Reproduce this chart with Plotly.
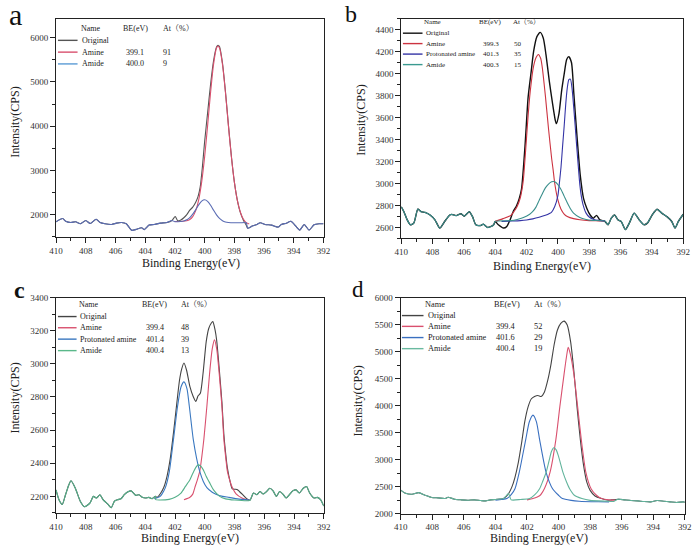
import plotly.graph_objects as go

W, H = 700, 552
FONT = "Liberation Serif, 'Noto Serif CJK SC', 'Noto Sans CJK SC', serif"

# ---------------- Panel a ----------------
A_orig_E = [410.0, 409.55, 409.35, 409.0, 408.68, 408.35, 408.0, 407.7, 407.3, 407.03, 406.7, 406.26, 405.93, 405.6,
            405.27, 404.9, 404.6, 404.24, 404.07, 403.74, 403.4, 402.97, 402.53, 402.2, 401.98, 401.8, 401.6, 401.4,
            401.2, 401.0, 400.8, 400.6, 400.45, 400.3, 400.15, 400.0, 399.8, 399.6, 399.4, 399.2, 399.1, 399.0, 398.8,
            398.6, 398.4, 398.2, 398.0, 397.8, 397.6, 397.4, 397.2, 397.1, 396.8, 396.48, 396.26, 395.93, 395.5,
            395.05, 394.84, 394.5, 394.2, 393.85, 393.6, 393.3, 392.97, 392.64, 392.3, 392.0]
A_orig_I = [1837, 1911, 1852, 1822, 1837, 1793, 1867, 1800, 1896, 1822, 1793, 1778, 1807, 1822,
            1793, 1644, 1666, 1704, 1659, 1763, 1778, 1807, 1822, 1867, 1956, 1860, 1880, 1930,
            2000, 2100, 2170, 2280, 2400, 2620, 3080, 3650, 4300, 4950, 5480, 5790, 5830, 5800, 5430,
            4790, 4030, 3320, 2740, 2330, 2050, 1880, 1760, 1690, 1741, 1778, 1815, 1778, 1763,
            1718, 1778, 1807, 1850, 1733, 1650, 1778, 1650, 1770, 1793, 1793]
A_amine_E = [402.0, 401.6, 401.2, 401.0, 400.8, 400.6, 400.4, 400.2, 400.0, 399.8, 399.6, 399.4, 399.2, 399.1,
             399.0, 398.8, 398.6, 398.4, 398.2, 398.0, 397.8, 397.6, 397.4, 397.2, 397.0]
A_amine_I = [1845, 1846, 1860, 1890, 1955, 2090, 2335, 2735, 3305, 4013, 4762, 5398, 5767, 5815,
             5767, 5398, 4762, 4013, 3305, 2735, 2320, 2060, 1900, 1820, 1790]
A_amide_E = [402.0, 401.6, 401.4, 401.2, 401.0, 400.8, 400.6, 400.4, 400.2, 400.0, 399.8, 399.6, 399.4, 399.2,
             399.0, 398.8, 398.6, 398.4, 398.0, 397.6, 397.2]
A_amide_I = [1840, 1846, 1856, 1882, 1932, 2010, 2112, 2220, 2304, 2335, 2300, 2212, 2100, 1995,
             1915, 1863, 1835, 1823, 1815, 1815, 1815]
A_names = ["Original", "Amine", "Amide"]
A_be = ["", "399.1", "400.0"]
A_at = ["", "91", "9"]

# ---------------- Panel b ----------------
B_orig_E = [410.0, 409.83, 409.62, 409.42, 409.2, 408.94, 408.73, 408.48, 408.16, 407.85,
            407.54, 407.23, 406.9, 406.77, 406.5, 406.18, 405.98, 405.66, 405.45, 405.24,
            404.93, 404.76, 404.5, 404.26, 404.1, 404.0, 403.8, 403.47, 403.26, 403.05,
            402.84, 402.64, 402.47, 402.32, 402.1, 401.9, 401.7, 401.55, 401.34, 401.13,
            400.93, 400.76, 400.55, 400.34, 400.17, 400.1, 399.93, 399.76, 399.6, 399.44,
            399.3, 399.13, 398.98, 398.78, 398.57, 398.36, 398.15, 397.94, 397.74, 397.53,
            397.32, 397.0, 396.8, 396.59, 396.38, 396.17, 395.96, 395.69, 395.44, 395.13,
            394.81, 394.5, 394.29, 393.98, 393.67, 393.35, 393.04, 392.73, 392.52, 392.31,
            392.0]
B_orig_I = [2788, 2743, 2669, 2624, 2639, 2767, 2743, 2737, 2713, 2669,
            2594, 2654, 2713, 2719, 2707, 2725, 2702, 2743, 2698, 2624,
            2618, 2630, 2600, 2609, 2624, 2654, 2624, 2594, 2609, 2670,
            2750, 2797, 2862, 2952, 3339, 3786, 4025, 4203, 4337, 4376,
            4323, 4173, 3935, 3727, 3578, 3545, 3637, 3846, 3995, 4129,
            4155, 4099, 3816, 3429, 3071, 2862, 2773, 2713, 2684, 2710,
            2669, 2655, 2624, 2684, 2713, 2669, 2654, 2580, 2639, 2730,
            2669, 2624, 2639, 2713, 2765, 2728, 2698, 2654, 2594, 2654,
            2720]
B_amine_E = [404.0, 403.5, 403.0, 402.8, 402.6, 402.4, 402.3, 402.2, 402.1, 402.0, 401.9, 401.8, 401.7, 401.6,
             401.5, 401.4, 401.25, 401.1, 401.0, 400.8, 400.6, 400.4, 400.3, 400.2, 400.0, 399.8, 399.6, 399.4,
             399.0, 398.6, 398.0, 397.4, 397.0]
B_amine_I = [2655, 2680, 2710, 2745, 2790, 2870, 2940, 3040, 3220, 3420, 3620, 3790, 3920, 4030,
             4100, 4145, 4175, 4140, 4060, 3800, 3500, 3230, 3120, 3000, 2850, 2765, 2722, 2700,
             2680, 2670, 2662, 2660, 2658]
B_prot_E = [403.6, 403.0, 402.4, 402.0, 401.6, 401.2, 400.8, 400.4, 400.2, 400.0, 399.9, 399.8, 399.7, 399.6,
            399.5, 399.4, 399.3, 399.2, 399.1, 399.0, 398.9, 398.8, 398.7, 398.6, 398.5, 398.4, 398.2, 398.0,
            397.7, 397.4, 397.0]
B_prot_I = [2655, 2658, 2662, 2668, 2678, 2692, 2710, 2740, 2790, 2890, 3010, 3150, 3340, 3520,
            3720, 3870, 3945, 3950, 3870, 3710, 3530, 3340, 3160, 2990, 2880, 2810, 2730, 2695,
            2672, 2664, 2660]
B_amide_E = [404.0, 403.0, 402.6, 402.2, 401.8, 401.6, 401.4, 401.2, 401.0, 400.8, 400.6, 400.4, 400.3, 400.2,
             400.0, 399.8, 399.6, 399.4, 399.2, 399.0, 398.6, 398.2, 397.8, 397.0]
B_amide_I = [2655, 2662, 2672, 2690, 2720, 2745, 2785, 2845, 2905, 2960, 2995, 3015, 3018, 3015,
             2990, 2945, 2885, 2825, 2770, 2730, 2690, 2672, 2664, 2658]
B_names = ["Original", "Amine", "Protonated amine", "Amide"]
B_be = ["", "399.3", "401.3", "400.3"]
B_at = ["", "50", "35", "15"]

# ---------------- Panel c ----------------
C_orig_E = [410.0, 409.8, 409.58, 409.36, 409.14, 408.99, 408.7, 408.37, 408.08, 407.71,
            407.49, 407.27, 407.05, 406.84, 406.5, 406.29, 406.07, 405.85, 405.63, 405.41,
            405.19, 404.95, 404.64, 404.42, 404.2, 403.98, 403.76, 403.54, 403.32, 403.2,
            402.98, 402.76, 402.54, 402.32, 402.1, 401.88, 401.7, 401.55, 401.4, 401.22,
            401.0, 400.78, 400.6, 400.45, 400.3, 400.12, 399.9, 399.73, 399.57, 399.46,
            399.31, 399.2, 399.03, 398.85, 398.72, 398.6, 398.48, 398.3, 398.15, 397.93,
            397.8, 397.66, 397.45, 397.16, 396.95, 396.73, 396.5, 396.29, 396.07, 395.85,
            395.63, 395.41, 395.19, 394.97, 394.75, 394.53, 394.31, 394.09, 393.87, 393.65,
            393.38, 393.16, 392.95, 392.66, 392.44, 392.22, 392.0]
C_orig_I = [2239, 2180, 2151, 2210, 2269, 2294, 2249, 2171, 2137, 2161,
            2200, 2190, 2210, 2180, 2151, 2131, 2171, 2180, 2186, 2210,
            2226, 2233, 2206, 2210, 2194, 2190, 2194, 2186, 2200, 2194,
            2217, 2253, 2321, 2429, 2587, 2763, 2901, 2970, 3005, 2960,
            2862, 2803, 2773, 2807, 2822, 2940, 3137, 3215, 3245, 3255,
            3205, 3140, 2970, 2770, 2575, 2460, 2370, 2290, 2245, 2243,
            2240, 2228, 2210, 2184, 2178, 2220, 2210, 2229, 2214, 2229,
            2249, 2233, 2200, 2229, 2214, 2190, 2210, 2233, 2239, 2220,
            2249, 2259, 2220, 2190, 2194, 2180, 2141]
C_amine_E = [401.4, 401.0, 400.8, 400.67, 400.5, 400.34, 400.2, 400.06, 399.86, 399.68, 399.5, 399.35,
             399.2, 399.03, 398.85, 398.72, 398.6, 398.48, 398.3, 398.15, 397.9, 397.5, 397.0]
C_amine_I = [2180, 2195, 2215, 2253, 2300, 2351, 2440, 2547, 2744, 2940, 3090, 3145,
             3090, 2940, 2744, 2547, 2440, 2351, 2290, 2253, 2215, 2190, 2175]
C_prot_E = [403.4, 403.0, 402.87, 402.65, 402.38, 402.1, 401.83, 401.6, 401.4, 401.2, 401.04, 400.78,
            400.55, 400.34, 400.1, 399.86, 399.5, 399.25, 398.8, 398.37, 397.8, 397.0]
C_prot_I = [2185, 2200, 2215, 2253, 2351, 2547, 2744, 2860, 2891, 2850, 2744, 2547,
            2430, 2351, 2290, 2253, 2225, 2213, 2200, 2194, 2185, 2178]
C_amide_E = [403.3, 403.0, 402.4, 402.0, 401.6, 401.3, 401.0, 400.8, 400.6, 400.45, 400.3, 400.1,
             399.9, 399.68, 399.4, 399.0, 398.6, 398.0, 397.0]
C_amide_I = [2180, 2178, 2182, 2195, 2220, 2260, 2300, 2340, 2375, 2390, 2385, 2360,
             2320, 2283, 2238, 2200, 2185, 2178, 2175]
C_names = ["Original", "Amine", "Protonated amine", "Amide"]
C_be = ["", "399.4", "401.4", "400.4"]
C_at = ["", "48", "39", "13"]

# ---------------- Panel d ----------------
D_orig_E = [410.0, 409.69, 409.28, 408.86, 408.45, 408.03, 407.62, 407.2, 407.0, 406.59,
            406.17, 405.76, 405.34, 404.93, 404.62, 404.31, 404.0, 403.7, 403.48, 403.17,
            402.96, 402.76, 402.55, 402.34, 402.14, 401.93, 401.72, 401.52, 401.31, 401.1,
            400.9, 400.69, 400.48, 400.28, 400.07, 399.86, 399.65, 399.45, 399.24, 399.03,
            398.83, 398.62, 398.41, 398.21, 398.0, 397.69, 397.28, 396.86, 396.65, 396.24,
            395.83, 395.41, 395.0, 394.59, 394.17, 393.76, 393.34, 392.93, 392.52, 392.1,
            392.0]
D_orig_I = [2436, 2376, 2358, 2388, 2340, 2297, 2291, 2279, 2303, 2267,
            2255, 2248, 2255, 2242, 2236, 2255, 2260, 2270, 2279, 2370,
            2491, 2673, 2945, 3309, 3703, 3976, 4127, 4170, 4188, 4170,
            4248, 4461, 4764, 5127, 5400, 5521, 5564, 5491, 5188, 4642,
            3976, 3370, 2885, 2582, 2430, 2327, 2279, 2248, 2255, 2267,
            2255, 2242, 2236, 2224, 2218, 2242, 2230, 2218, 2206, 2218,
            2212]
D_amine_E = [402.0, 401.62, 401.2, 400.9, 400.54, 400.17, 399.92, 399.65, 399.5, 399.39,
             399.25, 399.03, 398.79, 398.56, 398.27, 397.94, 397.6, 397.28, 396.8, 396.4]
D_amine_I = [2255, 2279, 2330, 2461, 2764, 3370, 3976, 4582, 4900, 5079,
             4950, 4582, 3976, 3370, 2764, 2461, 2340, 2279, 2255, 2250]
D_prot_E = [404.0, 403.6, 403.27, 403.0, 402.76, 402.49, 402.08, 401.85, 401.62, 401.4,
            401.2, 400.79, 400.38, 400.0, 399.76, 399.2, 398.7, 397.5, 396.8]
D_prot_I = [2250, 2262, 2279, 2350, 2461, 2764, 3370, 3700, 3824, 3700,
            3370, 2764, 2461, 2340, 2279, 2245, 2230, 2220, 2218]
D_amide_E = [403.0, 402.4, 401.83, 401.5, 401.2, 401.0, 400.79, 400.6, 400.45, 400.3,
             400.15, 400.0, 399.72, 399.5, 399.3, 399.0, 398.52, 398.0, 397.0, 396.5]
D_amide_I = [2255, 2262, 2279, 2350, 2461, 2600, 2764, 2980, 3150, 3220,
             3180, 3060, 2764, 2590, 2461, 2340, 2279, 2245, 2230, 2225]
D_names = ["Original", "Amine", "Protonated amine", "Amide"]
D_be = ["", "399.4", "401.6", "400.4"]
D_at = ["", "52", "29", "19"]

X_TICKS = [410, 408, 406, 404, 402, 400, 398, 396, 394, 392]


def full_component(orig_E, orig_I, comp_E, comp_I):
    """Component curve, continued by the raw spectrum outside the fitting window."""
    lo, hi = min(comp_E), max(comp_E)
    left = [(e, i) for e, i in zip(orig_E, orig_I) if e > hi]
    right = [(e, i) for e, i in zip(orig_E, orig_I) if e < lo]
    pts = left + list(zip(comp_E, comp_I)) + right
    return [p[0] for p in pts], [p[1] for p in pts]


panels = [
    dict(letter="a", letter_size=30, letter_bold=False, letter_pos=(8.5, 27),
         box=(50, 323, 14, 236), yrange=[1500, 6430], dtick=1000, minor=500,
         series=[(A_orig_E, A_orig_I, "#555555", 1.1),
                 (A_amine_E, A_amine_I, "#d9506e", 1.1)],
         last=(A_amide_E, A_amide_I, "#5a6cb4", 1.1),
         names=A_names, be=A_be, at=A_at,
         colors=["#555555", "#d9506e", "#5b9bd5"],
         leg=dict(hy=24, rows=[36, 48, 60], name_cx=86, be_cx=131.5, at_x=157, s0=52, s1=72,
                  lab_x=74, bev_x=119, atv_x=157.5, fs=8),
         ytitle=(8, 119), xtitle=(187.5, 263)),
    dict(letter="b", letter_size=24, letter_bold=False, letter_pos=(351.5, 23),
         box=(402.3, 690, 14, 237.7), yrange=[2500, 4500], dtick=200, minor=100,
         series=[(B_orig_E, B_orig_I, "#111111", 1.4),
                 (B_amine_E, B_amine_I, "#cc3340", 1.1),
                 (B_prot_E, B_prot_I, "#3434a6", 1.1)],
         last=(B_amide_E, B_amide_I, "#3a8f8c", 1.1),
         names=B_names, be=B_be, at=B_at,
         colors=["#111111", "#cc3340", "#3434a6", "#3a9a90"],
         leg=dict(hy=17.3, rows=[28.7, 39.3, 50, 60.7], name_cx=434, be_cx=493, at_x=514, s0=404, s1=424,
                  lab_x=426, bev_x=483.5, atv_x=515, fs=7),
         ytitle=(361, 117), xtitle=(546, 266)),
    dict(letter="c", letter_size=24, letter_bold=True, letter_pos=(12.5, 305),
         box=(50, 323.3, 298, 517.3), yrange=[2100, 3400], dtick=200, minor=100,
         series=[(C_orig_E, C_orig_I, "#444444", 1.1),
                 (C_amine_E, C_amine_I, "#d9506e", 1.1),
                 (C_prot_E, C_prot_I, "#3a78c0", 1.1)],
         last=(C_amide_E, C_amide_I, "#55b08a", 1.1),
         names=C_names, be=C_be, at=C_at,
         colors=["#444444", "#d9506e", "#3a78c0", "#5ab88a"],
         leg=dict(hy=305.3, rows=[317.3, 328.7, 340.3, 352], name_cx=83.5, be_cx=150.5, at_x=176, s0=52, s1=71,
                  lab_x=72.7, bev_x=140, atv_x=176, fs=8),
         ytitle=(8, 400), xtitle=(187, 543)),
    dict(letter="d", letter_size=23, letter_bold=False, letter_pos=(358.5, 304),
         box=(401.7, 691.7, 298, 518), yrange=[2000, 6000], dtick=500, minor=250,
         series=[(D_orig_E, D_orig_I, "#444444", 1.1),
                 (D_amine_E, D_amine_I, "#d9506e", 1.1),
                 (D_prot_E, D_prot_I, "#3a70c0", 1.1)],
         last=(D_amide_E, D_amide_I, "#62b49c", 1.1),
         names=D_names, be=D_be, at=D_at,
         colors=["#444444", "#d9506e", "#3a70c0", "#6abaa0"],
         leg=dict(hy=305.3, rows=[316.3, 327.3, 338.7, 350], name_cx=437, be_cx=510, at_x=535.7, s0=403, s1=425,
                  lab_x=427.3, bev_x=496.7, atv_x=535.7, fs=8.3),
         ytitle=(358, 403), xtitle=(543, 543)),
]

fig = go.Figure()
annotations = []
shapes = []


def P(px, py):
    return px / W, 1 - py / H


orig_lists = [(A_orig_E, A_orig_I), (B_orig_E, B_orig_I), (C_orig_E, C_orig_I), (D_orig_E, D_orig_I)]

for k, p in enumerate(panels):
    n = "" if k == 0 else str(k + 1)
    xa, ya = "x" + n, "y" + n
    x0, x1, y0, y1 = p["box"]
    for (E, I, col, w) in p["series"]:
        fig.add_trace(go.Scatter(x=E, y=I, mode="lines", xaxis=xa, yaxis=ya, showlegend=False,
                                 line=dict(color=col, width=w, shape="spline", smoothing=0.6),
                                 hoverinfo="skip"))
    cE, cI, col, w = p["last"]
    fe, fi = full_component(orig_lists[k][0], orig_lists[k][1], cE, cI)
    fig.add_trace(go.Scatter(x=fe, y=fi, mode="lines", xaxis=xa, yaxis=ya, showlegend=False,
                             line=dict(color=col, width=w, shape="spline", smoothing=0.6),
                             hoverinfo="skip"))

    axis_common = dict(showline=True, linecolor="#222222", linewidth=1, mirror=True,
                       ticks="outside", tickcolor="#222222", ticklen=5, tickwidth=1,
                       showgrid=False, zeroline=False,
                       tickfont=dict(family=FONT, size=9, color="#333333"))
    fig.layout["xaxis" + n] = dict(domain=[x0 / W, x1 / W], range=[410, 392], anchor=ya,
                                   tickmode="array", tickvals=X_TICKS,
                                   minor=dict(dtick=1, tick0=392, ticks="outside", ticklen=3,
                                              tickcolor="#222222", showgrid=False),
                                   **axis_common)
    fig.layout["yaxis" + n] = dict(domain=[1 - y1 / H, 1 - y0 / H], range=p["yrange"], anchor=xa,
                                   tick0=0, dtick=p["dtick"],
                                   minor=dict(dtick=p["minor"], tick0=0, ticks="outside", ticklen=3,
                                              tickcolor="#222222", showgrid=False),
                                   **axis_common)

    # panel letter
    lx, ly = P(*p["letter_pos"])
    txt = "<b>%s</b>" % p["letter"] if p["letter_bold"] else p["letter"]
    annotations.append(dict(x=lx, y=ly, xref="paper", yref="paper", text=txt, showarrow=False,
                            xanchor="center", yanchor="bottom", borderpad=0,
                            font=dict(family=FONT, size=p["letter_size"], color="#111111")))
    # axis titles
    tx, ty = P(*p["ytitle"])
    annotations.append(dict(x=tx, y=ty, xref="paper", yref="paper", text="Intensity(CPS)", showarrow=False,
                            textangle=-90, xanchor="center", yanchor="middle",
                            font=dict(family=FONT, size=12, color="#222222")))
    tx, ty = P(*p["xtitle"])
    annotations.append(dict(x=tx, y=ty, xref="paper", yref="paper", text="Binding Energy(eV)", showarrow=False,
                            xanchor="center", yanchor="middle",
                            font=dict(family=FONT, size=12, color="#222222")))

    # legend table
    L = p["leg"]
    f = dict(family=FONT, size=L["fs"], color="#222222")
    for text, cx, anchor in (("Name", L["name_cx"], "center"), ("BE(eV)", L["be_cx"], "center"),
                             ("At（%）", L["at_x"], "left")):
        ax_, ay_ = P(cx, L["hy"])
        annotations.append(dict(x=ax_, y=ay_, xref="paper", yref="paper", text=text, showarrow=False,
                                xanchor=anchor, yanchor="middle", font=f))
    for r, ry in enumerate(L["rows"]):
        sx0, sy = P(L["s0"], ry)
        sx1, _ = P(L["s1"], ry)
        shapes.append(dict(type="line", xref="paper", yref="paper", x0=sx0, x1=sx1, y0=sy, y1=sy,
                           line=dict(color=p["colors"][r], width=1.4)))
        for text, xx in ((p["names"][r], L["lab_x"]), (p["be"][r], L["bev_x"]), (p["at"][r], L["atv_x"])):
            if not text:
                continue
            ax_, ay_ = P(xx, ry)
            annotations.append(dict(x=ax_, y=ay_, xref="paper", yref="paper", text=text, showarrow=False,
                                    xanchor="left", yanchor="middle", font=f))

fig.update_layout(width=W, height=H, margin=dict(l=0, r=0, t=0, b=0),
                  paper_bgcolor="white", plot_bgcolor="white",
                  annotations=annotations, shapes=shapes, showlegend=False,
                  font=dict(family=FONT))

fig.write_html("out.html", config={"displayModeBar": False, "staticPlot": True},
               post_script="document.body.style.margin='0';document.body.style.overflow='hidden';")
